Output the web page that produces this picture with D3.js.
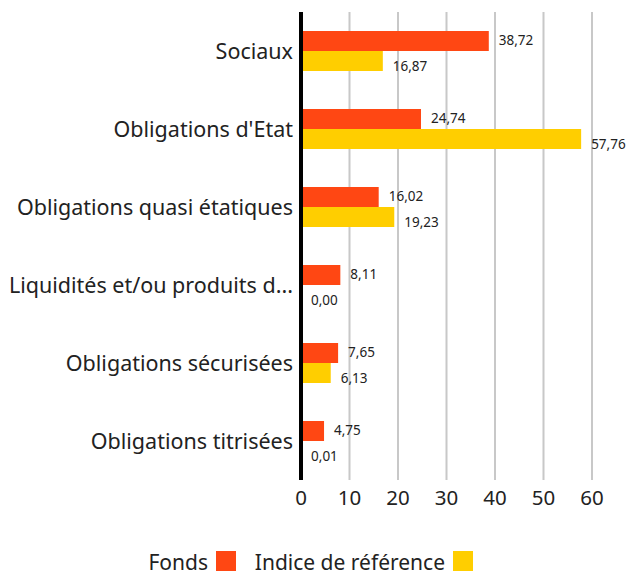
<!DOCTYPE html>
<html>
<head>
<meta charset="utf-8">
<script src="https://cdn.jsdelivr.net/npm/d3@7"></script>
<style>
  body { margin: 0; background: #fff; }
  text { font-family: "Noto Sans", sans-serif; fill: #222; }
</style>
</head>
<body>
<svg width="630" height="575"></svg>
<script>
// categories and values
var categories = ['Sociaux', "Obligations d'Etat", 'Obligations quasi étatiques',
  'Liquidités et/ou produits d...', 'Obligations sécurisées', 'Obligations titrisées'];
var fonds = [38.72, 24.74, 16.02, 8.11, 7.65, 4.75];
var indice = [16.87, 57.76, 19.23, 0.00, 6.13, 0.01];
var seriesNames = ['Fonds', 'Indice de référence'];
var ticks = [0, 10, 20, 30, 40, 50, 60];

var colors = ['#ff4713', '#ffce00'];

var svg = d3.select('svg');
// note: 'top' clashes with window.top, so use plot* names
var plotL = 301, plotR = 592, plotT = 12, plotB = 480;

var x = d3.scaleLinear().domain([0, 60]).range([plotL, plotR]);
var y = d3.scaleBand().domain(categories).range([plotT, plotB]);
var barH = 20;

var fmt = function(v) { return v.toFixed(2).replace('.', ','); };

// gridlines
svg.selectAll('.grid')
  .data(ticks.slice(1))
  .enter()
  .append('line')
  .attr('x1', function(d) { return x(d); })
  .attr('x2', function(d) { return x(d); })
  .attr('y1', plotT)
  .attr('y2', plotB)
  .attr('stroke', '#c8c8c8')
  .attr('stroke-width', 2);

var rows = categories.map(function(c, i) {
  return { cat: c, vals: [fonds[i], indice[i]] };
});

var g = svg.selectAll('.row')
  .data(rows)
  .enter()
  .append('g')
  .attr('transform', function(d) { return 'translate(0,' + (y(d.cat) + y.bandwidth() / 2) + ')'; });

g.selectAll('rect')
  .data(function(d) { return d.vals; })
  .enter()
  .append('rect')
  .attr('x', x(0))
  .attr('y', function(d, i) { return i === 0 ? -barH : 0; })
  .attr('width', function(d) { return x(d) - x(0); })
  .attr('height', barH)
  .attr('fill', function(d, i) { return colors[i]; });

g.selectAll('.val')
  .data(function(d) { return d.vals; })
  .enter()
  .append('text')
  .attr('x', function(d) { return x(d) + 10; })
  .attr('y', function(d, i) { return i === 0 ? -barH / 2 - 1 : barH / 2 + 5; })
  .attr('dy', '0.35em')
  .style('font-size', '13.5px')
  .text(fmt);

g.append('text')
  .attr('x', plotL - 8)
  .attr('dy', '0.35em')
  .attr('text-anchor', 'end')
  .style('font-size', '21.5px')
  .text(function(d) { return d.cat; });

// axis line
svg.append('line')
  .attr('x1', plotL).attr('x2', plotL)
  .attr('y1', plotT).attr('y2', plotB)
  .attr('stroke', '#000')
  .attr('stroke-width', 4);

// tick labels
svg.selectAll('.tick')
  .data(ticks)
  .enter()
  .append('text')
  .attr('x', function(d) { return x(d); })
  .attr('y', 498)
  .attr('dy', '0.35em')
  .attr('text-anchor', 'middle')
  .style('font-size', '20.5px')
  .text(function(d) { return d; });

// legend
var legX = [208, 445];
seriesNames.forEach(function(n, i) {
  svg.append('text')
    .attr('x', legX[i])
    .attr('y', 563)
    .attr('dy', '0.35em')
    .attr('text-anchor', 'end')
    .style('font-size', '21px')
    .text(n);
  svg.append('rect')
    .attr('x', legX[i] + 8)
    .attr('y', 551)
    .attr('width', 20)
    .attr('height', 20)
    .attr('fill', colors[i]);
});
</script>
</body>
</html>
